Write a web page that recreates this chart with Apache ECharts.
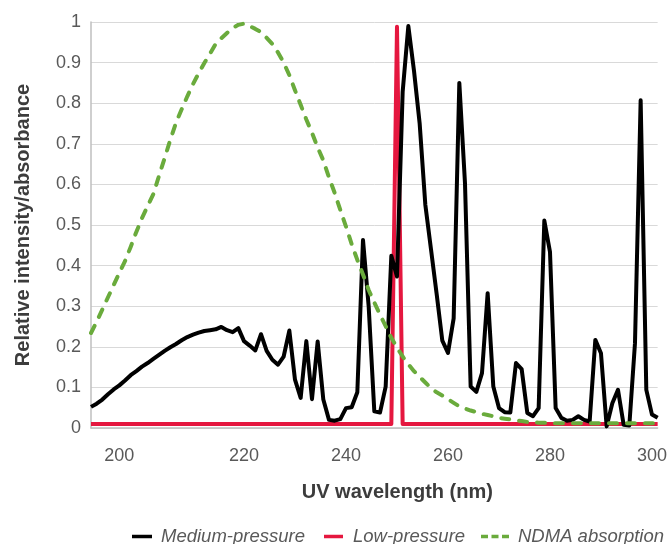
<!DOCTYPE html>
<html>
<head>
<meta charset="utf-8">
<script src="https://cdn.jsdelivr.net/npm/echarts@6/dist/echarts.min.js"></script>
<style>html,body{margin:0;padding:0;background:#fff}#c{width:670px;height:544px}</style>
</head>
<body>
<div id="c"></div>
<script>
// Sample wavelengths (nm) – category axis, as in the source spreadsheet
const wavelengths = [
  195.5,196.4,197.3,198.2,199.1,200,200.9,201.8,202.7,203.6,
  204.5,205.5,206.4,207.3,208.2,209.1,210,210.9,211.8,212.7,
  213.6,214.5,215.5,216.4,217.3,218.2,219.1,220,221.1,222.2,
  223.3,224.4,225.6,226.7,227.8,228.9,230,231.1,232.2,233.3,
  234.4,235.6,236.7,237.8,238.9,240,241.1,242.2,243.3,244.4,
  245.6,246.7,247.8,248.9,250,251.1,252.2,253.3,254.4,255.6,
  256.7,257.8,258.9,260,261.1,262.2,263.3,264.4,265.6,266.7,
  267.8,268.9,270,271.1,272.2,273.3,274.4,275.6,276.7,277.8,
  278.9,280,281.1,282.2,283.3,284.4,285.6,286.7,287.8,288.9,
  290,291.1,292.2,293.3,294.4,295.6,296.7,297.8,298.9,300,
  301.1
];
const tickLabels = [200, 220, 240, 260, 280, 300];

const mediumPressure = [
  0.052,0.060,0.070,0.083,0.095,0.105,0.117,0.130,0.140,0.151,
  0.160,0.170,0.180,0.190,0.199,0.207,0.216,0.224,0.230,0.235,
  0.239,0.241,0.243,0.249,0.241,0.236,0.246,0.214,0.203,0.191,
  0.231,0.190,0.168,0.156,0.176,0.240,0.119,0.074,0.214,0.071,
  0.213,0.070,0.020,0.018,0.022,0.049,0.051,0.088,0.463,0.300,
  0.041,0.038,0.102,0.424,0.373,0.828,0.990,0.880,0.750,0.550,
  0.440,0.330,0.215,0.185,0.270,0.850,0.603,0.102,0.089,0.135,
  0.332,0.102,0.049,0.039,0.038,0.160,0.145,0.037,0.029,0.049,
  0.511,0.434,0.049,0.025,0.018,0.020,0.029,0.020,0.016,0.217,
  0.184,0.004,0.061,0.094,0.008,0.006,0.209,0.807,0.094,0.033,
  0.025
];

const lowPressure = [
  0.01,0.01,0.01,0.01,0.01,0.01,0.01,0.01,0.01,0.01,
  0.01,0.01,0.01,0.01,0.01,0.01,0.01,0.01,0.01,0.01,
  0.01,0.01,0.01,0.01,0.01,0.01,0.01,0.01,0.01,0.01,
  0.01,0.01,0.01,0.01,0.01,0.01,0.01,0.01,0.01,0.01,
  0.01,0.01,0.01,0.01,0.01,0.01,0.01,0.01,0.01,0.01,
  0.01,0.01,0.01,0.01,0.988,0.01,0.01,0.01,0.01,0.01,
  0.01,0.01,0.01,0.01,0.01,0.01,0.01,0.01,0.01,0.01,
  0.01,0.01,0.01,0.01,0.01,0.01,0.01,0.01,0.01,0.01,
  0.01,0.01,0.01,0.01,0.01,0.01,0.01,0.01,0.01,0.01,
  0.01,0.01,0.01,0.01,0.01,0.01,0.01,0.01,0.01,0.01,
  0.01
];

const ndmaAbsorption = [
  0.234,0.262,0.292,0.322,0.352,0.382,0.411,0.446,0.483,0.517,
  0.547,0.576,0.621,0.665,0.710,0.752,0.785,0.817,0.847,0.874,
  0.899,0.922,0.946,0.960,0.973,0.985,0.993,0.996,0.990,0.983,
  0.975,0.961,0.946,0.925,0.900,0.869,0.832,0.796,0.760,0.727,
  0.691,0.659,0.617,0.579,0.537,0.496,0.453,0.414,0.378,0.340,
  0.309,0.279,0.251,0.222,0.198,0.176,0.157,0.140,0.126,0.112,
  0.098,0.088,0.080,0.071,0.062,0.053,0.048,0.043,0.039,0.035,
  0.032,0.029,0.025,0.023,0.021,0.019,0.017,0.015,0.014,0.013,
  0.013,0.012,0.012,0.012,0.012,0.012,0.012,0.012,0.012,0.012,
  0.012,0.012,0.012,0.012,0.012,0.012,0.012,0.012,0.012,0.012,
  0.012
];

const FONT = '"Liberation Sans", Arial, sans-serif';
const BLACK = '#000000', RED = '#e5173f', GREEN = '#6aab3c';

function legendText(padLeft) {
  return {fontSize: 18.5, fontStyle: 'italic', color: '#595959', fontFamily: FONT, padding: [0, 0, 0, padLeft]};
}

const chart = echarts.init(document.getElementById('c'), null, {renderer: 'canvas'});
chart.setOption({
  animation: false,
  backgroundColor: '#ffffff',
  grid: {left: 91, right: 12, top: 22, bottom: 116, containLabel: false},
  xAxis: {
    type: 'category',
    data: wavelengths.map(String),
    boundaryGap: false,
    axisLine: {lineStyle: {color: '#bfbfbf', width: 1.5}},
    axisTick: {show: false},
    axisLabel: {
      interval: (i, v) => tickLabels.includes(Number(v)),
      margin: 19, fontSize: 18, color: '#595959', fontFamily: FONT
    },
    splitLine: {show: false},
    name: 'UV wavelength (nm)',
    nameLocation: 'middle',
    nameGap: 54,
    nameTextStyle: {fontSize: 20, fontWeight: 'bold', color: '#3c3c3c', fontFamily: FONT, padding: [0, 0, 0, 46]}
  },
  yAxis: {
    type: 'value', min: 0, max: 1, interval: 0.1,
    axisLine: {show: true, lineStyle: {color: '#bfbfbf', width: 1.5}},
    axisTick: {show: false},
    axisLabel: {margin: 10, fontSize: 18, color: '#595959', fontFamily: FONT},
    splitLine: {lineStyle: {color: '#d9d9d9', width: 1}},
    name: 'Relative intensity/absorbance',
    nameLocation: 'middle',
    nameGap: 58,
    nameRotate: 90,
    nameTextStyle: {fontSize: 20, fontWeight: 'bold', color: '#3c3c3c', fontFamily: FONT}
  },
  legend: [
    {data: ['Medium-pressure'], left: 127, top: 522, itemWidth: 20, itemHeight: 3.5, icon: 'rect',
     selectedMode: false, textStyle: legendText(4)},
    {data: ['Low-pressure'], left: 319, top: 522, itemWidth: 19, itemHeight: 3.5, icon: 'rect',
     selectedMode: false, textStyle: legendText(5)},
    {data: ['NDMA absorption'], left: 476, top: 522, itemWidth: 32, itemHeight: 3.5,
     icon: 'path://M0,0h8v4h-8z M12,0h8v4h-8z M24,0h8v4h-8z',
     selectedMode: false, textStyle: legendText(2)}
  ],
  series: [
    {name: 'Low-pressure', type: 'line', data: lowPressure, symbol: 'none',
     lineStyle: {color: RED, width: 4, join: 'round'}, itemStyle: {color: RED}},
    {name: 'Medium-pressure', type: 'line', data: mediumPressure, symbol: 'none',
     lineStyle: {color: BLACK, width: 4, join: 'round'}, itemStyle: {color: BLACK}},
    {name: 'NDMA absorption', type: 'line', data: ndmaAbsorption, symbol: 'none',
     lineStyle: {color: GREEN, width: 4, type: [8, 10], cap: 'round', join: 'round'}, itemStyle: {color: GREEN}}
  ]
});
</script>
</body>
</html>
